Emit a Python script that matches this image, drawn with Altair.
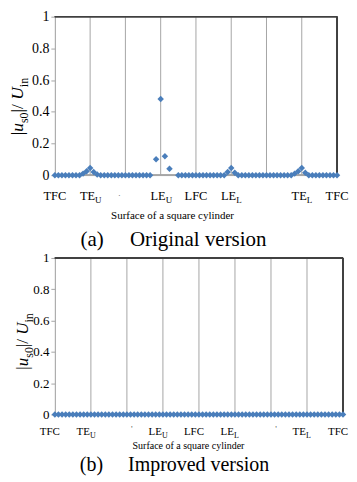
import altair as alt
import pandas as pd

# ---------------- data ----------------
# (a) original version: station along the surface (10 stations per segment) and |u_s0|/U_in
orig_pos = [0, 1, 2, 3, 4, 5, 6, 7, 8, 9, 10, 11, 12, 13, 14, 15, 16, 17, 18, 19,
            20, 21, 22, 23, 24, 25, 26, 27, 28.7, 30, 31.2, 32.5,
            35, 36, 37, 38, 39, 40, 41, 42, 43, 44, 45, 46, 47, 48, 49, 50, 51, 52,
            53, 54, 55, 56, 57, 58, 59, 60, 61, 62, 63, 64, 65, 66, 67, 68, 69, 70,
            71, 72, 73, 74, 75, 76, 77, 78, 79, 80]
orig_val = [0, 0, 0, 0, 0, 0, 0, 0, 0.01, 0.025, 0.045, 0.02, 0.005, 0, 0, 0, 0, 0, 0, 0,
            0, 0, 0, 0, 0, 0, 0, 0, 0.10, 0.48, 0.12, 0.04,
            0, 0, 0, 0, 0, 0, 0, 0, 0, 0, 0, 0, 0, 0, 0.02, 0.045, 0.015, 0,
            0, 0, 0, 0, 0, 0, 0, 0, 0, 0, 0, 0, 0, 0, 0, 0.01, 0.025, 0.045,
            0.015, 0, 0, 0, 0, 0, 0, 0, 0, 0]

# (b) improved version
impr_pos = [0, 1, 2, 3, 4, 5, 6, 7, 8, 9, 10, 11, 12, 13, 14, 15, 16, 17, 18, 19,
            20, 21, 22, 23, 24, 25, 26, 27, 28, 29, 30, 31, 32, 33, 34, 35, 36, 37, 38, 39,
            40, 41, 42, 43, 44, 45, 46, 47, 48, 49, 50, 51, 52, 53, 54, 55, 56, 57, 58, 59,
            60, 61, 62, 63, 64, 65, 66, 67, 68, 69, 70, 71, 72, 73, 74, 75, 76, 77, 78, 79, 80]
impr_val = [0, 0, 0, 0, 0, 0, 0, 0, 0, 0, 0, 0, 0, 0, 0, 0, 0, 0, 0, 0,
            0, 0, 0, 0, 0, 0, 0, 0, 0, 0, 0, 0, 0, 0, 0, 0, 0, 0, 0, 0,
            0, 0, 0, 0, 0, 0, 0, 0, 0, 0, 0, 0, 0, 0, 0, 0, 0, 0, 0, 0,
            0, 0, 0, 0, 0, 0, 0, 0, 0, 0, 0, 0, 0, 0, 0, 0, 0, 0, 0, 0, 0]

tick_pos = [0, 10, 20, 30, 40, 50, 60, 70, 80]
tick_main = ["TFC", "TE", "", "LE", "LFC", "LE", "", "TE", "TFC"]
tick_sub = ["", "U", "", "U", "", "L", "", "L", ""]
inner_grid = [10, 20, 30, 40, 50, 60, 70]
y_ticks = [0, 0.2, 0.4, 0.6, 0.8, 1]
# tiny stray marks left where the empty category labels are
stray_a_pos = [20]
stray_b_pos = [20, 60]

x_title = "Surface of a square cylinder"
captions = ["(a)\u00a0\u00a0\u00a0\u00a0\u00a0Original version",
            "(b)\u00a0\u00a0\u00a0\u00a0\u00a0Improved version"]
# y title pieces: text, is_subscript, italic, width in em
ytitle_pieces = [("|", False, False, 0.20), ("u", False, True, 0.50),
                 ("s0", True, False, 0.889), ("|/", False, False, 0.728),
                 ("U", False, True, 0.722), ("in", True, False, 0.778)]

FONT = "Liberation Serif, Times New Roman, Times, DejaVu Serif, serif"
BLUE = "#4A7EBB"
GRID = "#A6A6A6"
FRAME = "#404040"


def panel(pos, val, W, H, lab_fs, sub_fs, lab_base, sub_dx, lab_shift,
          surf_y, surf_x, surf_fs, cap_text, cap_y, cap_x, cap_fs,
          ylab_fs, tF, tS, t_x, t_y0, stray_pos, stray_txt, stray_dx, stray_y):
    df = pd.DataFrame({"pos": pos, "val": val})
    xsc = alt.Scale(domain=[0, 80], nice=False, zero=False)
    xenc = alt.X("pos:Q", scale=xsc, axis=None)

    gdf = pd.DataFrame({"pos": inner_grid})
    grid = alt.Chart(gdf).mark_rule(color=GRID, strokeWidth=1).encode(
        x=xenc, y=alt.value(0), y2=alt.value(H))
    frame_top = alt.Chart(gdf).mark_rule(color=FRAME, strokeWidth=1).encode(
        x=alt.value(0), x2=alt.value(W), y=alt.value(0))
    frame_right = alt.Chart(gdf).mark_rule(color=FRAME, strokeWidth=1).encode(
        x=alt.value(W), y=alt.value(0), y2=alt.value(H))
    frame_bottom = alt.Chart(gdf).mark_rule(color=GRID, strokeWidth=1).encode(
        x=alt.value(0), x2=alt.value(W), y=alt.value(H))

    pts = alt.Chart(df).mark_point(shape="diamond", filled=True, size=42,
                                   color=BLUE, opacity=1).encode(
        x=xenc,
        y=alt.Y("val:Q", scale=alt.Scale(domain=[0, 1], nice=False),
                axis=alt.Axis(values=y_ticks, format=".1~f", grid=False,
                              tickSize=4, tickColor=GRID, domainColor=GRID,
                              labelFont=FONT, labelFontSize=ylab_fs,
                              labelColor="black", labelPadding=2, title=None)))

    tdf = pd.DataFrame({"pos": tick_pos, "main": tick_main, "sub": tick_sub})
    with_sub = tdf[tdf["sub"] != ""]
    no_sub = tdf[(tdf["sub"] == "") & (tdf["main"] != "")]
    yl = alt.value(H + lab_base)
    lab_a = alt.Chart(with_sub).mark_text(
        align="right", baseline="alphabetic", dx=sub_dx + lab_shift,
        font=FONT, fontSize=lab_fs, color="black").encode(
        x=xenc, y=yl, text="main:N")
    lab_b = alt.Chart(with_sub).mark_text(
        align="left", baseline="alphabetic", dx=sub_dx + lab_shift, dy=3,
        font=FONT, fontSize=sub_fs, color="black").encode(
        x=xenc, y=yl, text="sub:N")
    lab_c = alt.Chart(no_sub).mark_text(
        align="center", baseline="alphabetic", dx=lab_shift,
        font=FONT, fontSize=lab_fs, color="black").encode(
        x=xenc, y=yl, text="main:N")

    sdf = pd.DataFrame({"pos": stray_pos, "t": [stray_txt] * len(stray_pos)})
    stray = alt.Chart(sdf).mark_text(
        align="center", baseline="alphabetic", dx=stray_dx, font=FONT,
        fontSize=9, color="#606060").encode(
        x=xenc, y=alt.value(H + stray_y), text="t:N")

    tdf2 = pd.DataFrame({"t": [x_title], "c": [cap_text]})
    surf = alt.Chart(tdf2).mark_text(
        align="center", baseline="alphabetic", font=FONT, fontSize=surf_fs,
        color="black").encode(x=alt.value(surf_x), y=alt.value(H + surf_y),
                              text="t:N")
    cap = alt.Chart(tdf2).mark_text(
        align="center", baseline="alphabetic", font=FONT, fontSize=cap_fs,
        color="black").encode(x=alt.value(cap_x), y=alt.value(H + cap_y),
                              text="c:N")

    layers = [grid, frame_top, frame_right, frame_bottom, pts,
              lab_a, lab_b, lab_c, stray, surf, cap]

    # rotated y-axis title built from pieces
    off = 0.0
    for txt, is_sub, ital, em in ytitle_pieces:
        fs = tS if is_sub else tF
        piece = alt.Chart(pd.DataFrame({"t": [txt]})).mark_text(
            align="left", baseline="alphabetic", angle=270, font=FONT,
            fontSize=fs, fontStyle="italic" if ital else "normal",
            color="black").encode(
            x=alt.value(t_x + (5 if is_sub else 0)),
            y=alt.value(t_y0 - off), text="t:N")
        layers.append(piece)
        off += em * fs

    return alt.layer(*layers).properties(width=W, height=H)


top = panel(orig_pos, orig_val, W=283, H=159, lab_fs=12.5, sub_fs=9,
            lab_base=25, sub_dx=5, lab_shift=0,
            surf_y=44, surf_x=118, surf_fs=11,
            cap_text=captions[0], cap_y=71, cap_x=119, cap_fs=21,
            ylab_fs=14, tF=17.5, tS=12, t_x=-32, t_y0=119,
            stray_pos=stray_a_pos, stray_txt=".", stray_dx=-6, stray_y=21)
bottom = panel(impr_pos, impr_val, W=289, H=157, lab_fs=11, sub_fs=8,
               lab_base=20.5, sub_dx=4, lab_shift=-5,
               surf_y=35, surf_x=134, surf_fs=10,
               cap_text=captions[1], cap_y=56.5, cap_x=120, cap_fs=20,
               ylab_fs=13, tF=17, tS=12, t_x=-27, t_y0=112,
               stray_pos=stray_b_pos, stray_txt="'", stray_dx=5, stray_y=17.5)

chart = alt.vconcat(top, bottom, spacing=0).properties(
    padding={"left": 0, "top": 0, "right": 0, "bottom": 0}
).configure_view(stroke=None).configure(background="white")

chart.save("out.html", embed_options={"renderer": "svg", "actions": False})
